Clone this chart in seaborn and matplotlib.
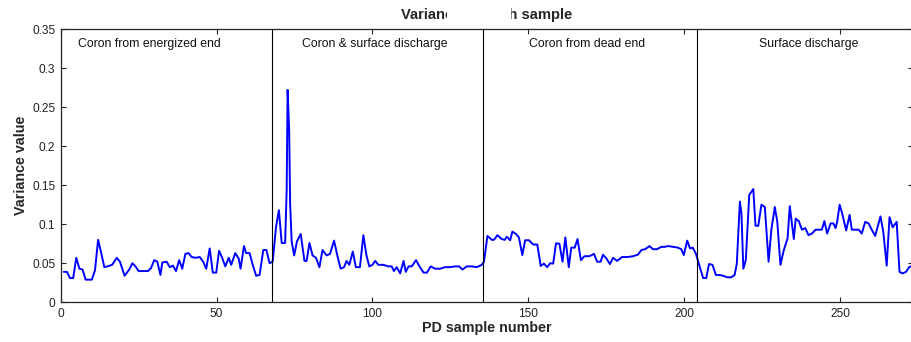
import numpy as np
import pandas as pd
import matplotlib
matplotlib.use("Agg")
import matplotlib.pyplot as plt
from matplotlib.patches import Rectangle
import seaborn as sns

# ---- data ----
sample_x = [1, 2, 3, 4, 5, 6, 7, 8, 9, 10, 11, 12, 13, 14, 15, 16.5, 18, 19, 20.5, 22,
            23, 24, 25, 26.5, 28, 29, 30, 31, 32, 32.6, 34, 35, 36, 37, 38, 39, 40, 41, 42, 43.3,
            44.6, 45.7, 46.7, 47.8, 48.8, 49.9, 50.8, 51.7, 52.8, 53.9, 54.7, 56, 57.1, 57.7, 58.8,
            59.5, 60.6, 61.6, 62.7, 63.8, 65, 66, 67, 68, 69.1, 70, 70.9, 72, 72.5, 72.8,
            73.3, 73.6, 74.1, 74.9, 75.8, 77, 78.2, 78.9, 79.8, 80.8, 81.9, 83, 84, 85.3, 86.4,
            87.7, 88.8, 89.8, 90.9, 91.7, 92.6, 93.7, 94.7, 96, 97.1, 98.1, 99, 100, 100.9, 101.9,
            103.5, 105.1, 106.2, 106.9, 107.8, 108.9, 110, 110.7, 111.6, 112.6, 114, 115.1, 116.4, 117.5, 118.7,
            120.1, 121.7, 123.3, 124.9, 126.5, 127.8, 128.9, 130.3, 131.9, 133.5, 135.1, 135.8, 136.9, 138.3, 139,
            140.1, 141.5, 142.5, 143.1, 144.2, 144.9, 146.1, 147, 148.1, 149, 150.2, 151.6, 152.9, 154, 155,
            156.1, 157, 158, 158.9, 160, 161, 161.9, 163, 163.8, 164.9, 165.8, 166.9, 168, 169.6, 171.1,
            172.1, 173.2, 174, 175.1, 176.2, 177.2, 178.5, 180.1, 182, 183.6, 185.2, 186.3, 187.5, 188.9, 190,
            191.3, 192.7, 193.7, 195, 196.4, 198, 199.1, 199.9, 201, 201.9, 202.8, 203.8, 205, 206.1, 207.1,
            208, 209.1, 210.2, 211.4, 212.5, 213.8, 215.1, 216.2, 216.9, 217.9, 218.4, 219, 219.8, 220.9, 222.2,
            222.9, 223.8, 224.8, 225.9, 227.1, 228, 229.1, 229.9, 230.9, 232, 233.2, 233.9, 235.2, 235.8, 236.8,
            237.8, 238.9, 239.9, 241, 242.2, 243.4, 244.2, 245, 245.9, 247, 247.9, 248.6, 249.1, 249.9, 250.7,
            252, 253.1, 253.8, 254.9, 256, 257, 258.1, 259.2, 260.2, 261.3, 262.1, 263, 263.9, 265, 265.9,
            266.9, 268.2, 269.1, 270.1, 271.2, 272.2, 273.5]
variance = [0.039, 0.039, 0.031, 0.031, 0.057, 0.043, 0.042, 0.029, 0.029, 0.029, 0.041, 0.080, 0.063, 0.045, 0.046, 0.048, 0.057, 0.052, 0.034, 0.042,
            0.050, 0.046, 0.040, 0.040, 0.040, 0.044, 0.054, 0.052, 0.035, 0.051, 0.052, 0.045, 0.047, 0.040, 0.054, 0.043, 0.062, 0.063, 0.058, 0.057,
            0.058, 0.052, 0.043, 0.069, 0.038, 0.038, 0.066, 0.058, 0.046, 0.057, 0.048, 0.063, 0.056, 0.043, 0.072,
            0.063, 0.063, 0.048, 0.034, 0.035, 0.067, 0.067, 0.050, 0.052, 0.097, 0.118, 0.076, 0.076, 0.144, 0.272,
            0.220, 0.127, 0.078, 0.060, 0.078, 0.0875, 0.053, 0.053, 0.076, 0.060, 0.057, 0.045, 0.067, 0.060, 0.062,
            0.079, 0.059, 0.043, 0.045, 0.053, 0.048, 0.065, 0.045, 0.045, 0.086, 0.060, 0.046, 0.048, 0.053, 0.048,
            0.048, 0.046, 0.046, 0.040, 0.045, 0.037, 0.053, 0.039, 0.046, 0.046, 0.054, 0.046, 0.038, 0.038, 0.046,
            0.043, 0.043, 0.045, 0.045, 0.046, 0.046, 0.042, 0.046, 0.046, 0.045, 0.048, 0.052, 0.085, 0.080, 0.080,
            0.086, 0.081, 0.080, 0.084, 0.0795, 0.0905, 0.0875, 0.083, 0.0605, 0.0795, 0.0795, 0.074, 0.074, 0.0465, 0.0495,
            0.045, 0.050, 0.0495, 0.0755, 0.075, 0.052, 0.083, 0.045, 0.070, 0.070, 0.081, 0.054, 0.059, 0.059, 0.062,
            0.052, 0.052, 0.061, 0.056, 0.049, 0.057, 0.053, 0.058, 0.058, 0.059, 0.061, 0.067, 0.068, 0.072, 0.068,
            0.068, 0.071, 0.071, 0.072, 0.071, 0.070, 0.068, 0.0605, 0.079, 0.069, 0.070, 0.062, 0.046, 0.031, 0.031,
            0.049, 0.048, 0.035, 0.035, 0.034, 0.032, 0.032, 0.035, 0.049, 0.129, 0.114, 0.043, 0.054, 0.1375, 0.145,
            0.098, 0.098, 0.125, 0.122, 0.052, 0.093, 0.122, 0.103, 0.048, 0.067, 0.082, 0.123, 0.081, 0.107, 0.104,
            0.093, 0.095, 0.086, 0.088, 0.093, 0.093, 0.093, 0.104, 0.088, 0.101, 0.101, 0.095, 0.103, 0.125, 0.114,
            0.092, 0.112, 0.093, 0.093, 0.093, 0.088, 0.103, 0.101, 0.093, 0.085, 0.097, 0.110, 0.0905, 0.047, 0.109,
            0.096, 0.103, 0.039, 0.037, 0.039, 0.045, 0.047]

boundaries = [67.7, 135.6, 204.2]
region_labels = ["Coron from energized end", "Coron & surface discharge",
                 "Coron from dead end", "Surface discharge"]
region_label_x = [28.3, 100.8, 168.8, 240.0]
x_ticks = [0, 50, 100, 150, 200, 250]
y_ticks = [0, 0.05, 0.1, 0.15, 0.2, 0.25, 0.3, 0.35]
y_tick_labels = ["0", "0.05", "0.1", "0.15", "0.2", "0.25", "0.3", "0.35"]
title = "Variance of each sample"
x_label = "PD sample number"
y_label = "Variance value"

df = pd.DataFrame({"sample": sample_x, "variance": variance})

sns.set_style("ticks")
plt.rcParams["font.family"] = ["Liberation Sans", "DejaVu Sans"]

W, H = 912, 342
fig = plt.figure(figsize=(W / 100, H / 100), dpi=100)
ax = fig.add_axes([60.7 / W, 39.7 / H, 852.5 / W, 273.3 / H])

sns.lineplot(data=df, x="sample", y="variance", ax=ax, color="#0000ff",
             linewidth=1.4, estimator=None, sort=False)

for b in boundaries:
    ax.axvline(b, color="black", linewidth=0.8, zorder=3)

for lab, lx in zip(region_labels, region_label_x):
    ax.text(lx, 0.331, lab, ha="center", va="center", fontsize=8.8, color="#111111")

ax.set_xlim(0, 273.5)
ax.set_ylim(0, 0.35)
ax.set_xticks(x_ticks)
ax.set_yticks(y_ticks)
ax.set_yticklabels(y_tick_labels)
ax.tick_params(direction="in", length=3.6, width=0.8, top=True, right=True,
               labelsize=8.6, colors="#222222", pad=4)
for s in ax.spines.values():
    s.set_linewidth(0.9)
    s.set_color("#222222")

ax.set_xlabel(x_label, fontsize=10.3, fontweight="bold", labelpad=1)
ax.set_ylabel(y_label, fontsize=10.3, fontweight="bold", labelpad=3)
ax.set_title(title, fontsize=10.6, fontweight="bold", pad=7.5)

# occluding patch over the middle of the title, as in the reference
fig.patches.append(Rectangle((447 / W, (H - 25) / H), 64 / W, 23 / H,
                             transform=fig.transFigure, facecolor="white",
                             edgecolor="none", zorder=10))

fig.savefig("out.png", dpi=100)
